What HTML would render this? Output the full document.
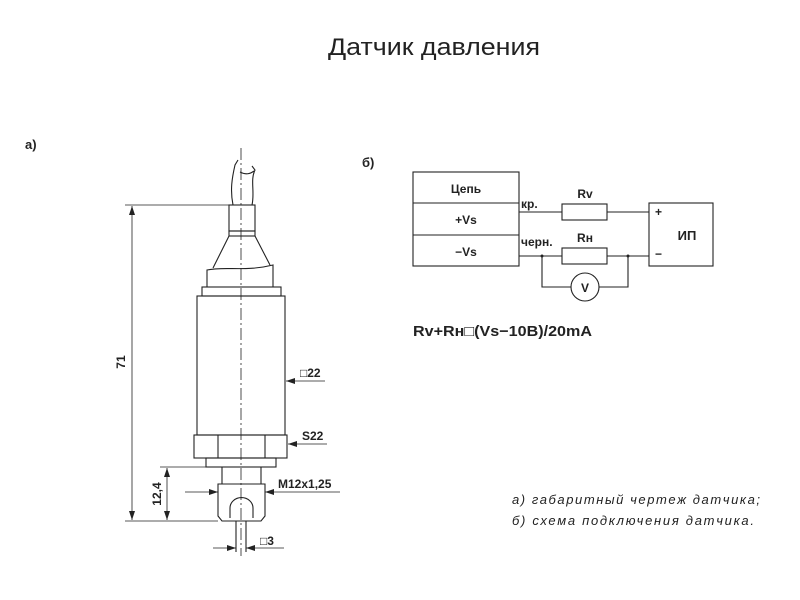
<!DOCTYPE html>
<html><head><meta charset="utf-8"><style>
html,body{margin:0;padding:0;background:#fff;width:800px;height:600px;overflow:hidden}
svg{display:block}
text{font-family:"Liberation Sans","DejaVu Sans",sans-serif;fill:#222}
</style></head><body>
<svg width="800" height="600" viewBox="0 0 800 600">
<defs>
<marker id="a" markerWidth="10" markerHeight="6" refX="9" refY="3" orient="auto-start-reverse" markerUnits="userSpaceOnUse"><path d="M0,0 L9,3 L0,6z" fill="#222"/></marker>
</defs>
<text x="434" y="55" font-size="24" text-anchor="middle" fill="#333" textLength="212" lengthAdjust="spacingAndGlyphs">Датчик давления</text>
<text x="25" y="149" font-size="13" font-weight="bold">а)</text>
<text x="362" y="167" font-size="13" font-weight="bold">б)</text>
<g stroke="#222" stroke-width="1.1" fill="none">
<line x1="241" y1="148" x2="241" y2="556" stroke-dasharray="12,3,2,3" stroke-width="0.8"/>
<path d="M233,205 C230,190 232,178 235,165 L238,160 M252,205 C255,192 250,180 255,170 L252,166 M240,172 C246,175 250,174 254,171"/>
<rect x="229" y="205" width="26" height="26"/>
<rect x="229" y="231" width="26" height="5"/>
<path d="M229,236 L213,268 M255,236 L270,265"/>
<path d="M207,287 L207,270 C225,266 245,272 273,265 L273,287"/>
<rect x="202" y="287" width="79" height="9"/>
<rect x="197" y="296" width="88" height="139"/>
<rect x="194" y="435" width="93" height="23"/>
<line x1="218" y1="435" x2="218" y2="458"/><line x1="265" y1="435" x2="265" y2="458"/>
<rect x="206" y="458" width="70" height="9"/>
<path d="M222,467 L222,484 M261,467 L261,484"/>
<path d="M218,484 L265,484 L265,516 L261,521 L222,521 L218,516 Z"/>
<path d="M230,518 L230,508 A11,10 0 0 1 253,508 L253,518"/>
<path d="M236,521 L236,552 M246,521 L246,552"/>
<line x1="125" y1="205" x2="229" y2="205" stroke-width="0.8"/>
<line x1="125" y1="521" x2="218" y2="521" stroke-width="0.8"/>
<line x1="132" y1="206" x2="132" y2="520" marker-start="url(#a)" marker-end="url(#a)" stroke-width="0.8"/>
<line x1="160" y1="467" x2="206" y2="467" stroke-width="0.8"/>
<line x1="167" y1="468" x2="167" y2="520" marker-start="url(#a)" marker-end="url(#a)" stroke-width="0.8"/>
<line x1="185" y1="492" x2="218" y2="492" marker-end="url(#a)" stroke-width="0.8"/>
<line x1="340" y1="492" x2="265" y2="492" marker-end="url(#a)" stroke-width="0.8"/>
<line x1="325" y1="381" x2="286" y2="381" marker-end="url(#a)" stroke-width="0.8"/>
<line x1="327" y1="444" x2="288" y2="444" marker-end="url(#a)" stroke-width="0.8"/>
<line x1="213" y1="548" x2="236" y2="548" marker-end="url(#a)" stroke-width="0.8"/>
<line x1="284" y1="548" x2="246" y2="548" marker-end="url(#a)" stroke-width="0.8"/>
</g>
<g font-size="12" font-weight="bold">
<text x="125" y="362" transform="rotate(-90 125 362)" text-anchor="middle" font-size="12">71</text>
<text x="161" y="494" transform="rotate(-90 161 494)" text-anchor="middle" font-size="12">12,4</text>
<text x="300" y="377">□22</text>
<text x="302" y="440">S22</text>
<text x="278" y="488">M12x1,25</text>
<text x="260" y="545">□3</text>
</g>
<g stroke="#222" stroke-width="1.1" fill="none">
<rect x="413" y="172" width="106" height="94"/>
<line x1="413" y1="203" x2="519" y2="203"/><line x1="413" y1="235" x2="519" y2="235"/>
<path d="M519,212 L562,212 M607,212 L649,212"/>
<rect x="562" y="204" width="45" height="16"/>
<path d="M519,256 L562,256 M607,256 L649,256"/>
<rect x="562" y="248" width="45" height="16"/>
<path d="M542,256 L542,287 L571,287 M599,287 L628,287 L628,256"/>
<circle cx="585" cy="287" r="14"/>
<rect x="649" y="203" width="64" height="63"/>
</g>
<circle cx="542" cy="256" r="1.5" fill="#222"/><circle cx="628" cy="256" r="1.5" fill="#222"/>
<g font-size="12" font-weight="bold">
<text x="466" y="193" text-anchor="middle">Цепь</text>
<text x="466" y="224" text-anchor="middle">+Vs</text>
<text x="466" y="256" text-anchor="middle">−Vs</text>
<text x="521" y="208">кр.</text>
<text x="521" y="246">черн.</text>
<text x="585" y="198" text-anchor="middle">Rv</text>
<text x="585" y="242" text-anchor="middle">Rн</text>
<text x="585" y="292" text-anchor="middle">V</text>
<text x="655" y="216">+</text>
<text x="655" y="258">−</text>
<text x="687" y="240" text-anchor="middle" font-size="13">ИП</text>
<text x="413" y="336" font-size="15" textLength="179" lengthAdjust="spacingAndGlyphs">Rv+Rн□(Vs−10B)/20mA</text>
</g>
<g font-size="13" font-style="italic" fill="#333">
<text x="512" y="504" textLength="248" lengthAdjust="spacing">а) габаритный чертеж датчика;</text>
<text x="512" y="525" textLength="242" lengthAdjust="spacing">б) схема подключения датчика.</text>
</g>
</svg>
</body></html>
